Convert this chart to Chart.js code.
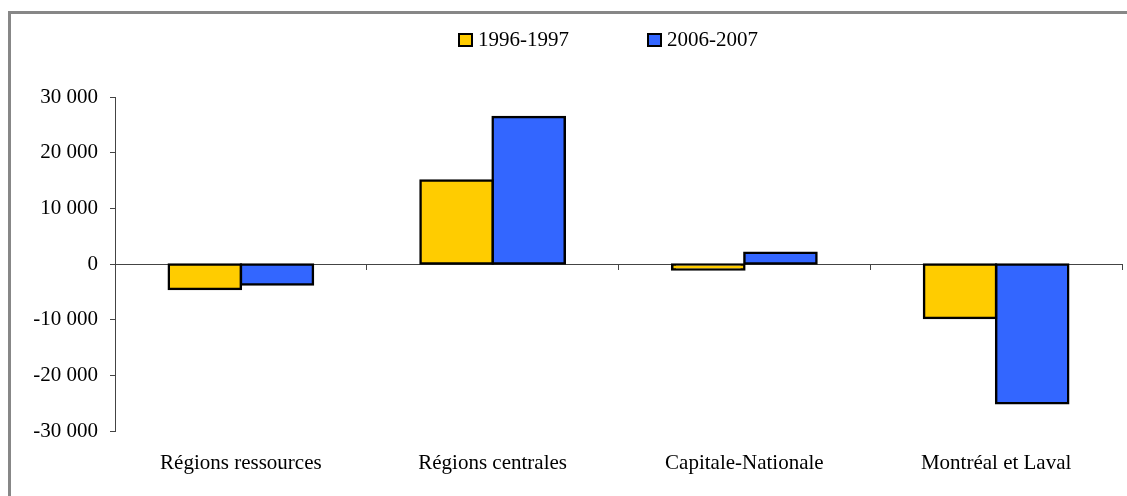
<!DOCTYPE html>
<html>
<head>
<meta charset="utf-8">
<script src="https://cdn.jsdelivr.net/npm/chart.js@4"></script>
<style>
  body { margin: 0; background: #fff; overflow: hidden; }
  #wrap { position: relative; width: 1127px; height: 496px; }
  #frame { position: absolute; left: 8px; top: 11px; width: 1140px; height: 500px; border: 3px solid #878787; box-sizing: border-box; }
  #chart_main { position: absolute; left: 0; top: 0; }
  #legend { position: absolute; left: 458px; top: 27px; display: flex; font: 21px "Liberation Serif", serif; color: #000; }
  #legend .item { display: flex; align-items: center; margin-right: 78px; }
  #legend .box { width: 11px; height: 10px; border: 2px solid #000; margin-right: 5px; }
</style>
</head>
<body>
<div id="wrap">
  <div id="frame"></div>
  <canvas id="chart_main" width="1127" height="496"></canvas>
  <div id="legend"></div>
</div>
<script>
"use strict";

// データ
const regions  = ['Régions ressources', 'Régions centrales', 'Capitale-Nationale', 'Montréal et Laval'];
const series_Na = ['1996-1997', '2006-2007'];
const vals_1996 = [-4500, 15000, -1000, -9700];
const vals_2006 = [-3700, 26400, 2000, -25000];
const series_Co = ['#FFCC00', '#3366FF'];
const y_ticks  = [-30000, -20000, -10000, 0, 10000, 20000, 30000];

// 30 000 の形式
function fmt_Num(v) {
    const s = String(Math.abs(v)).replace(/\B(?=(\d{3})+(?!\d))/g, ' ');
    return (v < 0 ? '-' : '') + s;
}

const font_T = { family: '"Liberation Serif", serif', size: 21 };
const axis_C = '#444';

// 凡例（HTML）
const legend = document.getElementById('legend');
series_Na.forEach((na, i) => {
    const item = document.createElement('div');
    item.className = 'item';
    const box = document.createElement('div');
    box.className = 'box';
    box.style.background = series_Co[i];
    const txt = document.createElement('span');
    txt.textContent = na;
    item.appendChild(box);
    item.appendChild(txt);
    legend.appendChild(item);
});

var ctx = document.getElementById('chart_main');
let chart = new Chart(ctx, {
    type: 'bar',
    data: {
        labels: regions,
        datasets: [
            { label: series_Na[0], data: vals_1996, backgroundColor: series_Co[0] },
            { label: series_Na[1], data: vals_2006, backgroundColor: series_Co[1] },
        ],
    },
    options: {
        responsive: false,
        animation: false,
        layout: { padding: { left: 15, right: 5, top: 97, bottom: 0 } },
        datasets: {
            bar: {
                borderColor: '#000',
                borderWidth: 2.5,
                borderSkipped: false,
                inflateAmount: 1.25,
                categoryPercentage: 0.573,
                barPercentage: 1,
            }
        },
        plugins: {
            legend: { display: false },
            tooltip: { enabled: false },
        },
        scales: {
            x: {
                position: 'bottom',
                grid: { display: false, drawTicks: false },
                border: { display: false },
                ticks: { font: font_T, color: '#000', padding: 20, maxRotation: 0 },
                afterFit: s => { s.height = 65; },
            },
            x2: {
                type: 'category',
                labels: regions,
                display: true,
                position: { y: 0 },
                grid: { offset: true, drawOnChartArea: false, tickLength: 5, color: axis_C },
                border: { color: axis_C },
                ticks: { display: false },
                afterFit: s => { s.height = 0; },
            },
            y: {
                min: y_ticks[0],
                max: y_ticks[y_ticks.length - 1],
                afterBuildTicks: s => { s.ticks = y_ticks.map(v => ({ value: v })); },
                grid: { drawOnChartArea: false, tickLength: 5, color: axis_C },
                border: { color: axis_C },
                ticks: { font: font_T, color: '#000', padding: 12, callback: v => fmt_Num(v) },
                afterFit: s => { s.width = 100; },
            },
        },
    },
});
</script>
</body>
</html>
